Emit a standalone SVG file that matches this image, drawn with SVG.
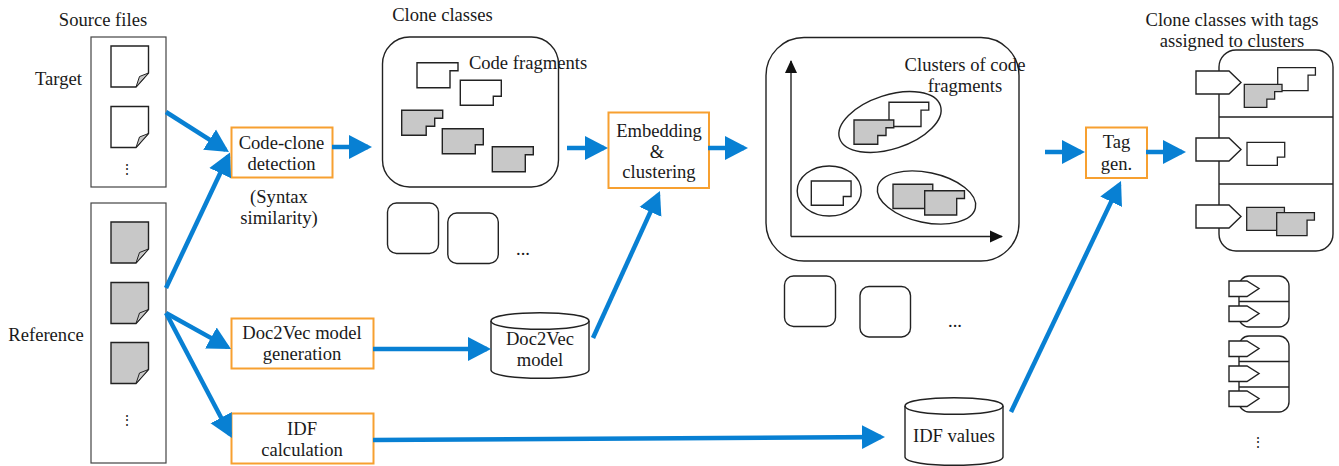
<svg xmlns="http://www.w3.org/2000/svg" xmlns:xlink="http://www.w3.org/1999/xlink" width="1339" height="466" viewBox="0 0 1339 466">
<style>
text{font-family:"Liberation Serif","Times New Roman",serif;font-size:18.600px;fill:#1a1a1a;text-anchor:middle}
.dots{font-size:14px}
.panel{fill:#fff;stroke:#444;stroke-width:1.2}
.round{fill:none;stroke:#222;stroke-width:1.4}
.proc{fill:#fff;stroke:#f7a030;stroke-width:2}
.w{fill:#fff;stroke:#222;stroke-width:1.4}
.g{fill:#c8c8c8;stroke:#222;stroke-width:1.4}
.doc{stroke:#222;stroke-width:1.4}
.fold{fill:#c8c8c8;stroke:#222;stroke-width:1}
.sep{stroke:#222;stroke-width:1.4;fill:none}
.flow{stroke:#0880d3;stroke-width:4.500;fill:none;marker-end:url(#blue)}
.axis{stroke:#222;stroke-width:1.4;fill:none;marker-end:url(#black)}
</style>
<defs>
<marker id="blue" markerUnits="userSpaceOnUse" markerWidth="24" markerHeight="26" refX="19" refY="13" orient="auto"><path d="M0 1 L23 13 L0 25 Z" fill="#0880d3"/></marker>
<marker id="black" markerUnits="userSpaceOnUse" markerWidth="14" markerHeight="14" refX="12" refY="7" orient="auto"><path d="M0 1 L13 7 L0 13 Z" fill="#111"/></marker>
<path id="f1" d="M0 0 H41 V8 H33 V25 H0 Z"/>
<path id="f2" d="M0 0 H41 V16 H33 V25 H0 Z"/>
<path id="f3" d="M0 0 H41 V8 H33 V16 H24.500 V25 H0 Z"/>
<path id="f4" d="M0 0 H41 V25 H0 Z"/>
<path id="d" d="M0 0 H37.500 V27 L25 41 H0 Z"/>
<path id="df" d="M25 41 L28.500 30.500 L37.500 27 Z"/>
<path id="t" d="M0 0 H33 L45 11.500 L33 23 H0 Z"/>
<path id="ts" d="M0 0 H18 L30 7.500 L18 15.500 H0 Z"/>
</defs>

<g id="source-files">
<text x="103" y="26">Source files</text>
<text x="58.500" y="85">Target</text>
<text x="46" y="341">Reference</text>
</g>

<g id="target-files">
<rect class="panel" x="91" y="37" width="75" height="150"/>
<use href="#d" x="111" y="46" class="doc" fill="#fff"/><use href="#df" x="111" y="46" class="fold"/>
<use href="#d" x="111" y="106.500" class="doc" fill="#fff"/><use href="#df" x="111" y="106.500" class="fold"/>
<text class="dots" x="127" y="174">⋮</text>
</g>

<g id="reference-files">
<rect class="panel" x="91" y="203" width="75" height="260"/>
<use href="#d" x="111" y="222" class="doc" fill="#c8c8c8"/><use href="#df" x="111" y="222" class="fold"/>
<use href="#d" x="111" y="282.500" class="doc" fill="#c8c8c8"/><use href="#df" x="111" y="282.500" class="fold"/>
<use href="#d" x="111" y="342.500" class="doc" fill="#c8c8c8"/><use href="#df" x="111" y="342.500" class="fold"/>
<text class="dots" x="127" y="425">⋮</text>
</g>

<g id="code-clone-detection">
<rect class="proc" x="231.500" y="127.500" width="101" height="50"/>
<text x="281.500" y="149">Code-clone</text>
<text x="281.500" y="170">detection</text>
<text x="279" y="203">(Syntax</text>
<text x="279" y="224">similarity)</text>
</g>

<g id="doc2vec-generation">
<rect class="proc" x="231.500" y="318.500" width="142" height="50"/>
<text x="302" y="339">Doc2Vec model</text>
<text x="302" y="360">generation</text>
</g>

<g id="idf-calculation">
<rect class="proc" x="231.500" y="413.500" width="142" height="50"/>
<text x="302" y="435">IDF</text>
<text x="302" y="456">calculation</text>
</g>

<g id="clone-classes">
<text x="442.500" y="21">Clone classes</text>
<rect class="round" x="382.500" y="37" width="176" height="150" rx="27"/>
<use href="#f1" x="417" y="62.700" class="w"/>
<use href="#f2" x="460.300" y="80.300" class="w"/>
<use href="#f3" x="401.700" y="110.300" class="g"/>
<use href="#f2" x="442.300" y="128.700" class="g"/>
<use href="#f1" x="492.300" y="146.700" class="g"/>
<text x="528" y="69">Code fragments</text>
<rect class="round" x="387.500" y="203" width="51" height="50.500" rx="9"/>
<rect class="round" x="447.800" y="213" width="50.500" height="50.500" rx="9"/>
<text x="523" y="255">...</text>
</g>

<g id="embedding-clustering">
<rect class="proc" x="608.500" y="112.500" width="100.500" height="75.500"/>
<text x="659" y="137">Embedding</text>
<text x="657" y="158">&amp;</text>
<text x="659" y="178">clustering</text>
</g>

<g id="doc2vec-model">
<path class="w" d="M491 321 C491 310 589 310 589 321 V370 C589 381 491 381 491 370 Z"/>
<path class="sep" d="M491 321 C491 332 589 332 589 321"/>
<text x="540" y="345">Doc2Vec</text>
<text x="540" y="366">model</text>
</g>

<g id="idf-values">
<path class="w" d="M905 406 C905 395 1003 395 1003 406 V457 C1003 468 905 468 905 457 Z"/>
<path class="sep" d="M905 406 C905 417 1003 417 1003 406"/>
<text x="954" y="442">IDF values</text>
</g>

<g id="clusters">
<rect class="round" x="766" y="37.500" width="253" height="223.500" rx="38"/>
<path class="axis" d="M791 236.500 V61"/>
<path class="axis" d="M791 236.500 H1002"/>
<ellipse class="round" cx="890" cy="122" rx="53" ry="27" transform="rotate(-18 890 122)"/>
<ellipse class="round" cx="829.200" cy="191" rx="32" ry="25"/>
<ellipse class="round" cx="926.500" cy="197.500" rx="50" ry="25" transform="rotate(12 926.500 197.500)"/>
<use href="#f1" transform="translate(889 102.300) scale(.97)" class="w"/>
<use href="#f3" transform="translate(854 120) scale(.97)" class="g"/>
<use href="#f2" transform="translate(811.300 181) scale(.97)" class="w"/>
<use href="#f4" transform="translate(893 184.300) scale(.97)" class="g"/>
<use href="#f1" transform="translate(924.700 190.700) scale(.97)" class="g"/>
<text x="965" y="71">Clusters of code</text>
<text x="965" y="92">fragments</text>
<rect class="round" x="784.500" y="276" width="51" height="50.500" rx="9"/>
<rect class="round" x="860" y="286.500" width="50.500" height="50.500" rx="9"/>
<text x="955" y="327">...</text>
</g>

<g id="tag-generation">
<rect class="proc" x="1086" y="127.500" width="61" height="50.500"/>
<text x="1116.500" y="148">Tag</text>
<text x="1116.500" y="170">gen.</text>
</g>

<g id="tagged-classes">
<text x="1232" y="26">Clone classes with tags</text>
<text x="1232" y="47">assigned to clusters</text>
<rect class="round" x="1219" y="50" width="114" height="201" rx="17"/>
<path class="sep" d="M1219 117 H1333 M1219 184 H1333"/>
<use href="#t" x="1196" y="71" class="w"/>
<use href="#t" x="1196" y="138" class="w"/>
<use href="#t" x="1196" y="205" class="w"/>
<use href="#f1" transform="translate(1277.700 67.700) scale(.92)" class="w"/>
<use href="#f3" transform="translate(1244.300 84.300) scale(.92)" class="g"/>
<use href="#f2" transform="translate(1247 142.300) scale(.92)" class="w"/>
<use href="#f4" transform="translate(1246.700 207.300) scale(.92)" class="g"/>
<use href="#f1" transform="translate(1276.700 212.700) scale(.92)" class="g"/>
</g>

<g id="tagged-class-small-1">
<rect class="round" x="1239" y="276" width="50" height="51" rx="10"/>
<path class="sep" d="M1239 301.500 H1289"/>
<use href="#ts" x="1229" y="281" class="w"/>
<use href="#ts" x="1229" y="306" class="w"/>
</g>

<g id="tagged-class-small-2">
<rect class="round" x="1239" y="336" width="50" height="76" rx="10"/>
<path class="sep" d="M1239 361.500 H1289 M1239 387 H1289"/>
<use href="#ts" x="1229" y="341" class="w"/>
<use href="#ts" x="1229" y="366" class="w"/>
<use href="#ts" x="1229" y="391" class="w"/>
<text class="dots" x="1258" y="447">⋮</text>
</g>

<g id="connectors">
<path class="flow" d="M166 112 L225.600 149.800"/>
<path class="flow" d="M166 288 L228.300 156"/>
<path class="flow" d="M166 313 L227.500 347.100"/>
<path class="flow" d="M166 313 L230 434.500"/>
<path class="flow" d="M332 147 L368 147"/>
<path class="flow" d="M373 349 L487 349"/>
<path class="flow" d="M567 148 L604 148"/>
<path class="flow" d="M708 148 L744 148"/>
<path class="flow" d="M593 338 L658.300 194.600"/>
<path class="flow" d="M373 440 L881 437"/>
<path class="flow" d="M1011 412 L1119.300 184.600"/>
<path class="flow" d="M1045 152 L1081 152"/>
<path class="flow" d="M1146 152 L1182 152"/>
</g>
</svg>
